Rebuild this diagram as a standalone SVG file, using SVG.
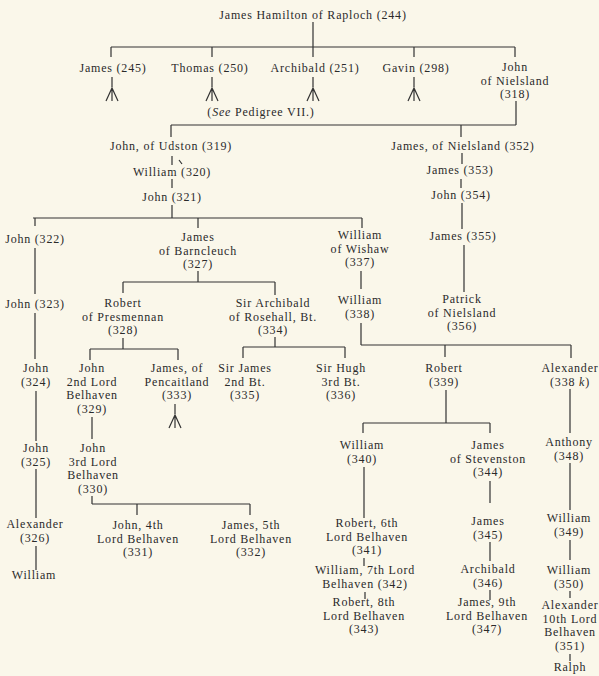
<svg xmlns="http://www.w3.org/2000/svg" width="599" height="676" viewBox="0 0 599 676">
<style>
.t{font-family:"Liberation Serif","DejaVu Serif",serif;font-size:12px;letter-spacing:0.8px;fill:#2a2a2a;text-anchor:middle}
.i{font-style:italic}
.c{fill:none;stroke:#333;stroke-width:1.2}
</style>
<defs>
<path id="tri" d="M-6,13 L0,0 L6,13 M0,0 V13" class="c"/>
</defs>
<rect width="599" height="676" fill="#faf7ea"/>
<g id="connectors">
<path class="c" d="M313,22V47 M111,47H515 M111,47V57 M212,47V57 M313,47V57 M414,47V57 M515,47V57
M112,77V87 M212,77V87 M313,77V87 M414,77V87
M516,101V125 M171,125H516 M171,125V137 M461,125V137
M172,156V165 M179,160L182,164 M172,179V188 M172,205V218
M33,218H362 M35,218V226 M198,218V228 M362,218V228
M462,153V164 M461,179V188 M462,203V229 M464,245V292
M35,248V294 M198,271V282 M123,282H275 M123,282V293 M275,282V295 M361,271V289
M35,313V359 M123,338V349 M90,349H178 M90,349V360 M178,349V360
M275,337V347 M243,347H345 M243,347V358 M345,347V358
M361,323V345 M361,345H571 M445,345V357 M571,345V358
M36,391V441 M92,417V439 M175,404V414
M446,390V423 M363,423H490 M363,423V433 M490,423V433 M570,389V433
M36,469V518 M92,496V504 M92,504H250 M137,504V515 M250,504V515
M364,467V518 M490,481V503 M570,463V510
M36,546V570 M364,558V566 M490,542V561 M570,540V560
M365,592V599 M490,590V600 M570,591V598 M570,654V661"/>
<use href="#tri" x="112" y="88"/>
<use href="#tri" x="212" y="88"/>
<use href="#tri" x="313" y="88"/>
<use href="#tri" x="414" y="88"/>
<use href="#tri" x="175" y="415"/>
</g>
<g id="n244"><text class="t" x="313" y="19">James Hamilton of Raploch (244)</text></g>
<g id="n245"><text class="t" x="113" y="72">James (245)</text></g>
<g id="n250"><text class="t" x="210" y="72">Thomas (250)</text></g>
<g id="n251"><text class="t" x="315" y="72">Archibald (251)</text></g>
<g id="n298"><text class="t" x="416" y="72">Gavin (298)</text></g>
<g id="n318"><text class="t"><tspan x="515" y="71">John</tspan><tspan x="515" y="84.5">of Nielsland</tspan><tspan x="515" y="98">(318)</tspan></text></g>
<g id="see"><text class="t" x="261" y="116">(<tspan class="i">See</tspan> Pedigree VII.)</text></g>
<g id="n319"><text class="t" x="171" y="150">John, of Udston (319)</text></g>
<g id="n352"><text class="t" x="463" y="150">James, of Nielsland (352)</text></g>
<g id="n320"><text class="t" x="172" y="176">William (320)</text></g>
<g id="n321"><text class="t" x="172" y="201">John (321)</text></g>
<g id="n353"><text class="t" x="460" y="174">James (353)</text></g>
<g id="n354"><text class="t" x="461" y="199">John (354)</text></g>
<g id="n355"><text class="t" x="463" y="240">James (355)</text></g>
<g id="n356"><text class="t"><tspan x="462" y="303">Patrick</tspan><tspan x="462" y="316.5">of Nielsland</tspan><tspan x="462" y="330">(356)</tspan></text></g>
<g id="n322"><text class="t" x="35" y="243">John (322)</text></g>
<g id="n327"><text class="t"><tspan x="198" y="241">James</tspan><tspan x="198" y="254.5">of Barncleuch</tspan><tspan x="198" y="268">(327)</tspan></text></g>
<g id="n337"><text class="t"><tspan x="360" y="239">William</tspan><tspan x="360" y="252.5">of Wishaw</tspan><tspan x="360" y="266">(337)</tspan></text></g>
<g id="n323"><text class="t" x="35" y="308">John (323)</text></g>
<g id="n328"><text class="t"><tspan x="123" y="307">Robert</tspan><tspan x="123" y="320.5">of Presmennan</tspan><tspan x="123" y="334">(328)</tspan></text></g>
<g id="n334"><text class="t"><tspan x="273" y="307">Sir Archibald</tspan><tspan x="273" y="320.5">of Rosehall, Bt.</tspan><tspan x="273" y="334">(334)</tspan></text></g>
<g id="n338"><text class="t"><tspan x="360" y="304">William</tspan><tspan x="360" y="317.5">(338)</tspan></text></g>
<g id="n324"><text class="t"><tspan x="36" y="372">John</tspan><tspan x="36" y="385.5">(324)</tspan></text></g>
<g id="n329"><text class="t"><tspan x="92" y="372">John</tspan><tspan x="92" y="385.5">2nd Lord</tspan><tspan x="92" y="399">Belhaven</tspan><tspan x="92" y="412.5">(329)</tspan></text></g>
<g id="n333"><text class="t"><tspan x="177" y="372">James, of</tspan><tspan x="177" y="385.5">Pencaitland</tspan><tspan x="177" y="399">(333)</tspan></text></g>
<g id="n335"><text class="t"><tspan x="245" y="372">Sir James</tspan><tspan x="245" y="385.5">2nd Bt.</tspan><tspan x="245" y="399">(335)</tspan></text></g>
<g id="n336"><text class="t"><tspan x="341" y="372">Sir Hugh</tspan><tspan x="341" y="385.5">3rd Bt.</tspan><tspan x="341" y="399">(336)</tspan></text></g>
<g id="n339"><text class="t"><tspan x="444" y="372">Robert</tspan><tspan x="444" y="385.5">(339)</tspan></text></g>
<g id="n338k"><text class="t"><tspan x="570" y="372">Alexander</tspan><tspan x="570" y="385.5">(338 <tspan class="i">k</tspan>)</tspan></text></g>
<g id="n325"><text class="t"><tspan x="36" y="452">John</tspan><tspan x="36" y="465.5">(325)</tspan></text></g>
<g id="n330"><text class="t"><tspan x="93" y="452">John</tspan><tspan x="93" y="465.5">3rd Lord</tspan><tspan x="93" y="479">Belhaven</tspan><tspan x="93" y="492.5">(330)</tspan></text></g>
<g id="n340"><text class="t"><tspan x="362" y="449">William</tspan><tspan x="362" y="462.5">(340)</tspan></text></g>
<g id="n344"><text class="t"><tspan x="488" y="449">James</tspan><tspan x="488" y="462.5">of Stevenston</tspan><tspan x="488" y="476">(344)</tspan></text></g>
<g id="n348"><text class="t"><tspan x="569" y="446">Anthony</tspan><tspan x="569" y="459.5">(348)</tspan></text></g>
<g id="n326"><text class="t"><tspan x="35" y="528">Alexander</tspan><tspan x="35" y="541.5">(326)</tspan></text></g>
<g id="n331"><text class="t"><tspan x="138" y="529">John, 4th</tspan><tspan x="138" y="542.5">Lord Belhaven</tspan><tspan x="138" y="556">(331)</tspan></text></g>
<g id="n332"><text class="t"><tspan x="251" y="529">James, 5th</tspan><tspan x="251" y="542.5">Lord Belhaven</tspan><tspan x="251" y="556">(332)</tspan></text></g>
<g id="n341"><text class="t"><tspan x="367" y="527">Robert, 6th</tspan><tspan x="367" y="540.5">Lord Belhaven</tspan><tspan x="367" y="554">(341)</tspan></text></g>
<g id="n345"><text class="t"><tspan x="488" y="525">James</tspan><tspan x="488" y="538.5">(345)</tspan></text></g>
<g id="n349"><text class="t"><tspan x="569" y="522">William</tspan><tspan x="569" y="535.5">(349)</tspan></text></g>
<g id="nWilliam"><text class="t" x="34" y="579">William</text></g>
<g id="n342"><text class="t"><tspan x="365" y="574">William, 7th Lord</tspan><tspan x="365" y="587.5">Belhaven (342)</tspan></text></g>
<g id="n346"><text class="t"><tspan x="488" y="573">Archibald</tspan><tspan x="488" y="586.5">(346)</tspan></text></g>
<g id="n350"><text class="t"><tspan x="569" y="574">William</tspan><tspan x="569" y="587.5">(350)</tspan></text></g>
<g id="n343"><text class="t"><tspan x="364" y="606">Robert, 8th</tspan><tspan x="364" y="619.5">Lord Belhaven</tspan><tspan x="364" y="633">(343)</tspan></text></g>
<g id="n347"><text class="t"><tspan x="487" y="606">James, 9th</tspan><tspan x="487" y="619.5">Lord Belhaven</tspan><tspan x="487" y="633">(347)</tspan></text></g>
<g id="n351"><text class="t"><tspan x="570" y="609">Alexander</tspan><tspan x="570" y="622.5">10th Lord</tspan><tspan x="570" y="636">Belhaven</tspan><tspan x="570" y="649.5">(351)</tspan></text></g>
<g id="nRalph"><text class="t" x="570" y="671">Ralph</text></g>
</svg>
